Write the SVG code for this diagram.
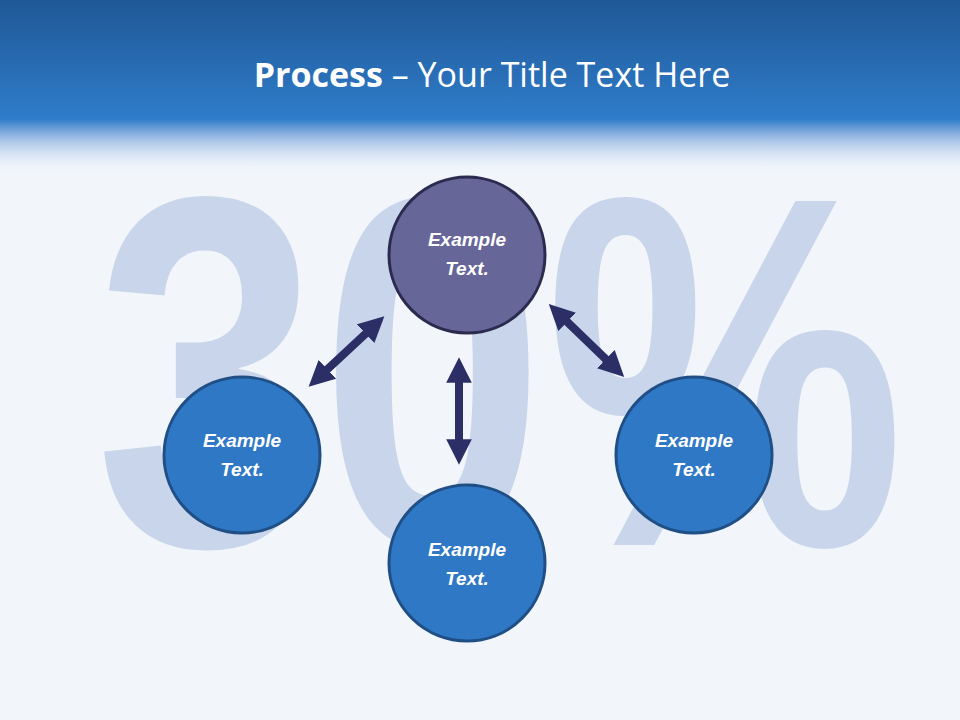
<svg xmlns="http://www.w3.org/2000/svg" width="960" height="720" viewBox="0 0 960 720">
<defs>
<linearGradient id="hdr" x1="0" y1="0" x2="0" y2="1">
<stop offset="0" stop-color="#1f5896"/>
<stop offset="0.68" stop-color="#2f7cca"/>
<stop offset="0.75" stop-color="#7aa6dc"/>
<stop offset="1" stop-color="#f2f6fb" stop-opacity="0"/>
</linearGradient>
<marker id="ah" viewBox="0 0 10 10" refX="5" refY="5" markerWidth="3.2" markerHeight="3.2" orient="auto-start-reverse">
<path d="M0,0 L10,5 L0,10 z" fill="#2b2f66"/>
</marker>
<style>
.blue{fill:#2f78c6;stroke:#1f4f85;stroke-width:3}
.purp{fill:#676699;stroke:#2b2b4f;stroke-width:3}
.lbl{font-family:"Liberation Sans",Arial,sans-serif;font-weight:bold;font-style:italic;font-size:19px;fill:#fff;text-anchor:middle}
.arr{stroke:#2b2f66;stroke-width:8;marker-start:url(#ah);marker-end:url(#ah)}
</style>
</defs>
<rect width="960" height="720" fill="#f2f6fb"/>
<text x="95" y="545" font-family="Liberation Sans,Arial,sans-serif" font-weight="bold" font-size="500" fill="#c8d5ea" textLength="810" lengthAdjust="spacingAndGlyphs">30%</text>
<rect width="960" height="175" fill="url(#hdr)"/>
<text x="492" y="87" font-family="Open Sans,Liberation Sans,sans-serif" font-size="34" fill="#fff" text-anchor="middle"><tspan font-weight="bold">Process</tspan> – Your Title Text Here</text>
<g id="connectors">
<line class="arr" x1="375" y1="325" x2="318" y2="378"/>
<line class="arr" x1="459" y1="370" x2="459" y2="452"/>
<line class="arr" x1="558" y1="313" x2="615" y2="368"/>
</g>
<g id="n1"><circle class="purp" cx="467" cy="255" r="78"/><text class="lbl" x="467" y="246">Example</text><text class="lbl" x="467" y="275">Text.</text></g>
<g id="n2"><circle class="blue" cx="242" cy="455" r="78"/><text class="lbl" x="242" y="447">Example</text><text class="lbl" x="242" y="476">Text.</text></g>
<g id="n3"><circle class="blue" cx="467" cy="563" r="78"/><text class="lbl" x="467" y="556">Example</text><text class="lbl" x="467" y="585">Text.</text></g>
<g id="n4"><circle class="blue" cx="694" cy="455" r="78"/><text class="lbl" x="694" y="447">Example</text><text class="lbl" x="694" y="476">Text.</text></g>
</svg>
